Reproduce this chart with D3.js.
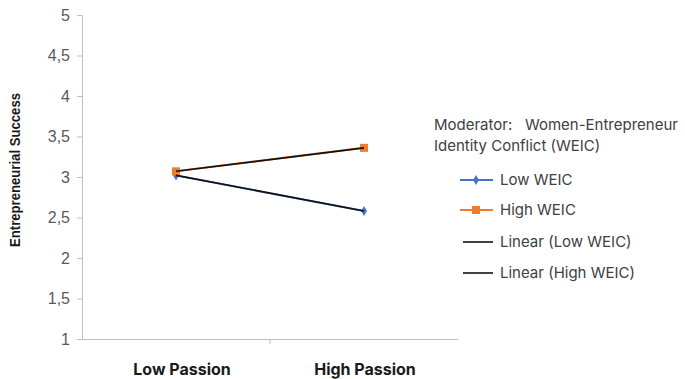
<!DOCTYPE html>
<html><head><meta charset="utf-8">
<script src="https://cdn.jsdelivr.net/npm/d3@7"></script>
<style>body{margin:0;background:#fff}</style>
</head><body><svg id="c" width="685" height="379"></svg>
<script>
const categories = ["Low Passion", "High Passion"];
const lowWEIC = [3.02, 2.58];
const highWEIC = [3.07, 3.36];
const yTicks = [1, 1.5, 2, 2.5, 3, 3.5, 4, 4.5, 5];
const yTickLabels = ["1", "1,5", "2", "2,5", "3", "3,5", "4", "4,5", "5"];
const legendTitle = ["Moderator:   Women-Entrepreneur", "Identity Conflict (WEIC)"];
const legendLabels = ["Low WEIC", "High WEIC", "Linear (Low WEIC)", "Linear (High WEIC)"];

const svg = d3.select("#c");
const x = d3.scaleBand().domain(categories).range([82, 458]);
const y = d3.scaleLinear().domain([1, 5]).range([339, 15]);
const axisColor = "#bfbfbf";

// y axis
const ya = svg.append("g").attr("transform", "translate(82,0)")
  .call(d3.axisLeft(y).tickValues(yTicks).tickSize(5).tickFormat((d, i) => yTickLabels[i]));
ya.select(".domain").attr("stroke", axisColor);
ya.selectAll(".tick line").attr("stroke", axisColor);
ya.selectAll(".tick text").attr("fill", "#595959").attr("font-family", "Liberation Sans, Arial, sans-serif").attr("font-size", 16).attr("dx", -4);

// x axis
const xa = svg.append("g").attr("transform", "translate(0,339)")
  .call(d3.axisBottom(x).tickSize(0).tickFormat(""));
xa.select(".domain").attr("stroke", axisColor);
xa.selectAll(".tick").remove();
svg.append("line").attr("x1", x.range()[0] + x.bandwidth()).attr("x2", x.range()[0] + x.bandwidth())
  .attr("y1", 339).attr("y2", 344).attr("stroke", axisColor);
const labelShift = [6, 1];
svg.append("g").selectAll("text").data(categories).join("text")
  .attr("x", (d, i) => x(d) + x.bandwidth() / 2 + labelShift[i]).attr("y", 375)
  .attr("text-anchor", "middle").attr("font-family", "Inter, sans-serif").attr("font-weight", "bold")
  .attr("font-size", 16).attr("fill", "#1a1a1a").text(d => d);

// y title
svg.append("text").attr("transform", "translate(20,170) rotate(-90)")
  .attr("text-anchor", "middle").attr("font-family", "Liberation Sans, Arial, sans-serif")
  .attr("font-weight", "bold").attr("font-size", 15.5).attr("fill", "#1a1a1a")
  .attr("textLength", 154).attr("lengthAdjust", "spacingAndGlyphs").text("Entrepreneurial Success");

const cx = d => x(d) + x.bandwidth() / 2;
const line = d3.line().x((d, i) => cx(categories[i])).y(d => y(d));

// series lines
svg.append("path").datum(lowWEIC).attr("d", line).attr("fill", "none").attr("stroke", "#4472C4").attr("stroke-width", 2);
svg.append("path").datum(highWEIC).attr("d", line).attr("fill", "none").attr("stroke", "#ED7D31").attr("stroke-width", 2);
// markers
const diamond = d3.symbol().type(d3.symbolDiamond).size(30);
svg.append("g").selectAll("path").data(lowWEIC).join("path")
  .attr("transform", (d, i) => `translate(${cx(categories[i])},${y(d)})`).attr("d", diamond).attr("fill", "#4472C4");
svg.append("g").selectAll("rect").data(highWEIC).join("rect")
  .attr("x", (d, i) => cx(categories[i]) - 4).attr("y", d => y(d) - 4).attr("width", 8).attr("height", 8).attr("fill", "#ED7D31");
// linear trend lines (black)
svg.append("path").datum(lowWEIC).attr("d", line).attr("fill", "none").attr("stroke", "#111").attr("stroke-width", 1.6);
svg.append("path").datum(highWEIC).attr("d", line).attr("fill", "none").attr("stroke", "#111").attr("stroke-width", 1.6);

// legend
const lg = svg.append("g").attr("font-family", "Inter, sans-serif").attr("font-size", 15).attr("fill", "#404040");
lg.selectAll("text.t").data(legendTitle).join("text").attr("class", "t")
  .attr("x", 434).attr("y", (d, i) => 130 + i * 21).attr("xml:space", "preserve").style("white-space", "pre").text(d => d);
const rowsY = [180, 210, 242, 273];
legendLabels.forEach((lab, i) => {
  const yy = rowsY[i];
  const col = i === 0 ? "#4472C4" : i === 1 ? "#ED7D31" : "#111";
  lg.append("line").attr("x1", i < 2 ? 460 : 463).attr("x2", 493).attr("y1", yy).attr("y2", yy)
    .attr("stroke", col).attr("stroke-width", i < 2 ? 2 : 1.6);
  if (i === 0) lg.append("path").attr("transform", `translate(476,${yy})`).attr("d", diamond).attr("fill", col);
  if (i === 1) lg.append("rect").attr("x", 472).attr("y", yy - 4).attr("width", 8).attr("height", 8).attr("fill", col);
  lg.append("text").attr("x", 500).attr("y", yy + 5).text(lab);
});
</script></body></html>
